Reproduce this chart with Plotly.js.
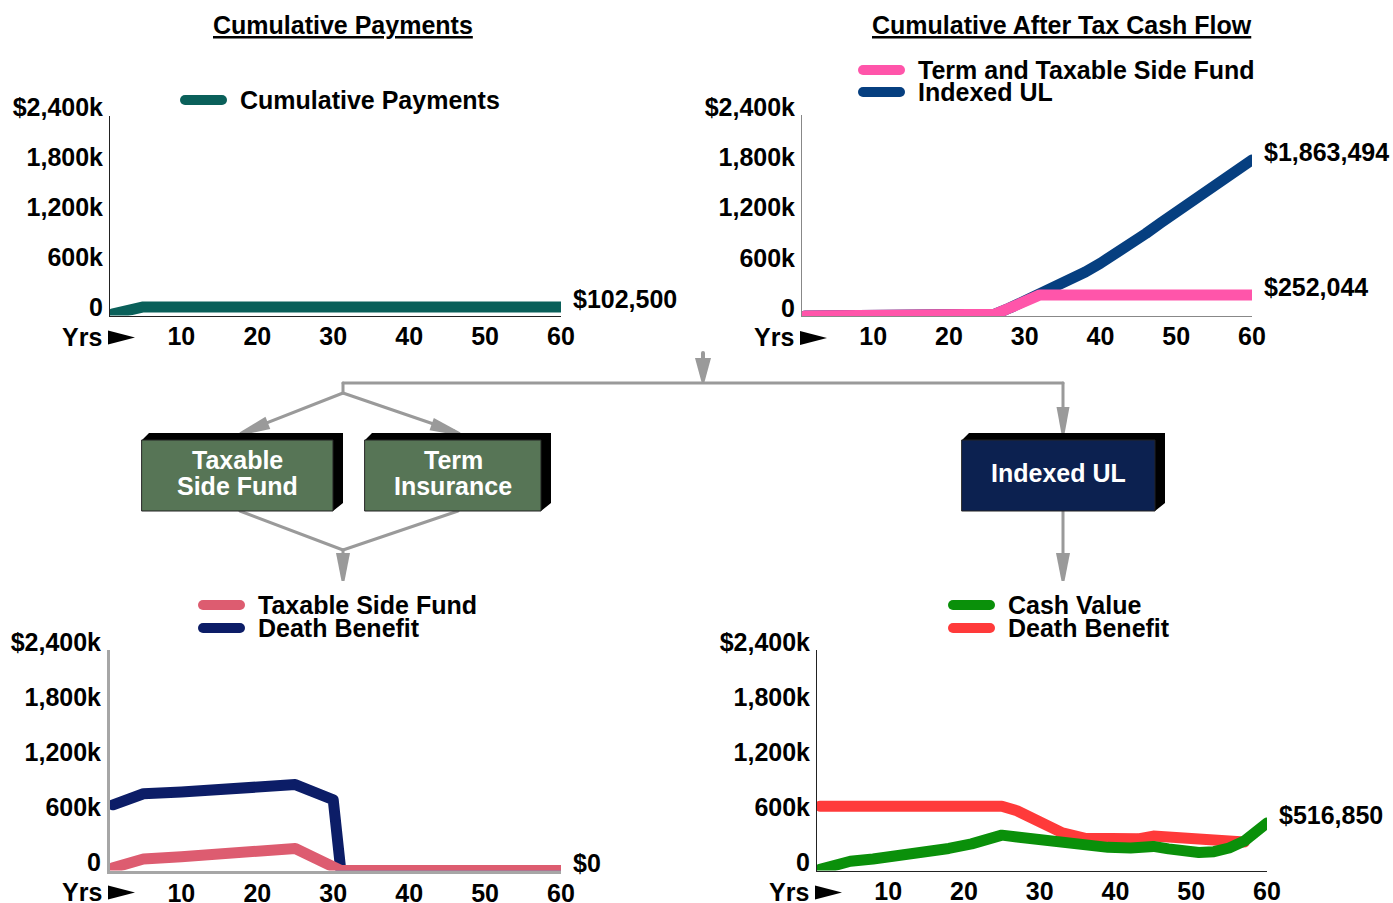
<!DOCTYPE html>
<html><head><meta charset="utf-8">
<script src="https://cdn.plot.ly/plotly-3.0.1.min.js"></script>
<style>
html,body{margin:0;padding:0;background:#fff;}
#chart{width:1393px;height:903px;}
.js-plotly-plot .scatterlayer .js-line{stroke-linecap:round!important;stroke-linejoin:round!important;}
.js-plotly-plot .cartesianlayer .plot,.js-plotly-plot .cartesianlayer .plot *{clip-path:none!important;}
.js-plotly-plot .shapelayer path{stroke-linecap:round!important;}
</style></head><body><div id="chart"></div>
<script>
// ---------------- data ----------------
const payYears = [1, 2, 3, 4, 5, 60];
const payValues = [20500, 41000, 61500, 82000, 102500, 102500];

const termYears = [1, 25, 26, 28, 30, 32, 60];
const termValues = [0, 0, 20000, 95000, 175000, 252044, 252044];

const iulYears = [1, 25, 26, 28, 30, 32, 34, 36, 38, 40, 42, 44, 46, 48, 50, 52, 54, 56, 58, 60];
const iulValues = [0, 0, 20000, 95000, 175000, 255000, 335000, 425000, 525000, 630000, 740000, 860000, 985000, 1115000, 1245000, 1375000, 1500000, 1620000, 1740000, 1863494];

const sideYears = [1, 5, 10, 15, 20, 25, 31, 60];
const sideValues = [30000, 125000, 150000, 175000, 205000, 240000, 0, 0];

const termDbYears = [1, 5, 10, 15, 20, 25, 30, 31, 60];
const termDbValues = [715000, 835000, 855000, 880000, 905000, 935000, 770000, 0, 0];

const cvYears = [1, 5, 8, 12, 15, 18, 21, 23, 25, 27, 30, 33, 36, 39, 42, 44, 45, 47, 49, 51, 53, 55, 57, 59, 60];
const cvValues = [12000, 100000, 125000, 160000, 195000, 240000, 290000, 335000, 385000, 365000, 330000, 300000, 272000, 252000, 245000, 255000, 262000, 235000, 205000, 195000, 205000, 245000, 320000, 430000, 516850];

const iulDbYears = [1, 25, 27, 30, 33, 36, 40, 43, 45, 48, 51, 54, 57];
const iulDbValues = [700000, 700000, 650000, 525000, 410000, 350000, 335000, 345000, 375000, 360000, 360000, 325000, 310000];

const yTickVals = [0, 600000, 1200000, 1800000, 2400000];
const yTickText = ['0', '600k', '1,200k', '1,800k', '$2,400k'];
const xTickVals = [10, 20, 30, 40, 50, 60];
const xTickText = ['10', '20', '30', '40', '50', '60'];
const xLeadLabel = 'Yrs';

const titles = ['Cumulative Payments', 'Cumulative After Tax Cash Flow'];
const boxLabels = [['Taxable', 'Side Fund'], ['Term', 'Insurance'], ['Indexed UL']];

// ---------------- styling ----------------
const W = 1393, H = 903;
const X = p => p / W, Y = p => 1 - p / H;
const F = 'Liberation Sans, Arial, Helvetica, sans-serif';
const GRAY = '#9a9a9a';
const C = {
  teal: '#0a605a', pink: '#ff55aa', blue: '#063f80', side: '#dd5c70',
  navy: '#0c1d67', green: '#0a900a', red: '#ff3a3a'
};
const font = (size, color) => ({family: F, size: size, color: color || '#000', weight: 700});

const panels = [
  {x0: 110, x1: 561, yt: 115.5, yb: 315.5, lc: '#222', lw: 1},
  {x0: 802, x1: 1252, yt: 115, yb: 316, lc: '#888', lw: 1},
  {x0: 110, x1: 561, yt: 650, yb: 870.5, lc: '#a6a6a6', lw: 3},
  {x0: 817, x1: 1267, yt: 650, yb: 870.5, lc: '#222', lw: 1}
];

const layout = {
  width: W, height: H, margin: {l: 0, r: 0, t: 0, b: 0},
  paper_bgcolor: '#fff', plot_bgcolor: 'rgba(0,0,0,0)', showlegend: false,
  annotations: [], shapes: []
};

panels.forEach((p, i) => {
  const n = i + 1, sfx = n === 1 ? '' : String(n);
  layout['xaxis' + sfx] = {
    domain: [X(p.x0), X(p.x1)], range: [0.6, 60], anchor: 'y' + sfx,
    showline: true, linecolor: p.lc, linewidth: p.lw, showgrid: false, zeroline: false,
    ticks: '', tickmode: 'array', tickvals: xTickVals, ticktext: xTickText,
    tickfont: font(25), ticklabelstandoff: -2, fixedrange: true
  };
  layout['yaxis' + sfx] = {
    domain: [Y(p.yb), Y(p.yt)], range: [0, 2400000], anchor: 'x' + sfx,
    showline: true, linecolor: p.lc, linewidth: p.lw, showgrid: false, zeroline: false,
    ticks: '', tickmode: 'array', tickvals: yTickVals, ticktext: yTickText,
    tickfont: font(25), ticklabelshift: -8, ticklabelstandoff: 1, fixedrange: true
  };
  // "Yrs" lead label and pointer
  layout.annotations.push({
    xref: 'paper', yref: 'paper', x: X(p.x0 - 6), y: Y(p.yb + 21), xanchor: 'right', yanchor: 'middle',
    text: xLeadLabel, showarrow: false, font: font(25)
  });
  const ty = p.yb + 22;
  layout.shapes.push({
    type: 'path', xref: 'paper', yref: 'paper', fillcolor: '#000', line: {width: 0},
    path: 'M' + X(p.x0 - 2) + ',' + Y(ty - 7) + 'L' + X(p.x0 + 25) + ',' + Y(ty) + 'L' + X(p.x0 - 2) + ',' + Y(ty + 7) + 'Z'
  });
});

const line = (c) => ({color: c, width: 11});
const data = [
  {x: payYears, y: payValues, xaxis: 'x', yaxis: 'y', mode: 'lines', line: line(C.teal), name: 'Cumulative Payments'},
  {x: iulYears, y: iulValues, xaxis: 'x2', yaxis: 'y2', mode: 'lines', line: line(C.blue), name: 'Indexed UL'},
  {x: termYears, y: termValues, xaxis: 'x2', yaxis: 'y2', mode: 'lines', line: line(C.pink), name: 'Term and Taxable Side Fund'},
  {x: termDbYears, y: termDbValues, xaxis: 'x3', yaxis: 'y3', mode: 'lines', line: line(C.navy), name: 'Death Benefit'},
  {x: sideYears, y: sideValues, xaxis: 'x3', yaxis: 'y3', mode: 'lines', line: line(C.side), name: 'Taxable Side Fund'},
  {x: iulDbYears, y: iulDbValues, xaxis: 'x4', yaxis: 'y4', mode: 'lines', line: line(C.red), name: 'Death Benefit'},
  {x: cvYears, y: cvValues, xaxis: 'x4', yaxis: 'y4', mode: 'lines', line: line(C.green), name: 'Cash Value'}
];
data.forEach(t => { t.hoverinfo = 'skip'; t.showlegend = false; });

// end-value labels
const fmt = v => '$' + v.toLocaleString('en-US');
const endLabel = (xs, ys, ax) => ({
  xref: 'x' + ax, yref: 'y' + ax, x: xs[xs.length - 1], y: ys[ys.length - 1],
  text: fmt(ys[ys.length - 1]), showarrow: false, xanchor: 'left', yanchor: 'middle',
  xshift: 10, yshift: 8, font: font(25)
});
layout.annotations.push(endLabel(payYears, payValues, ''));
layout.annotations.push(endLabel(iulYears, iulValues, '2'));
layout.annotations.push(endLabel(termYears, termValues, '2'));
layout.annotations.push(endLabel(sideYears, sideValues, '3'));
layout.annotations.push(endLabel(cvYears, cvValues, '4'));

// titles
layout.annotations.push({xref: 'paper', yref: 'paper', x: X(343), y: Y(25), xanchor: 'center', yanchor: 'middle', text: '<u>' + titles[0] + '</u>', showarrow: false, font: font(25)});
layout.annotations.push({xref: 'paper', yref: 'paper', x: X(1062), y: Y(25), xanchor: 'center', yanchor: 'middle', text: '<u>' + titles[1] + '</u>', showarrow: false, font: font(25)});

// custom legends
const legendItems = [
  {x: 180, y: 100, c: C.teal, t: 'Cumulative Payments'},
  {x: 858, y: 70, c: C.pink, t: 'Term and Taxable Side Fund'},
  {x: 858, y: 92, c: C.blue, t: 'Indexed UL'},
  {x: 198, y: 605, c: C.side, t: 'Taxable Side Fund'},
  {x: 198, y: 628, c: C.navy, t: 'Death Benefit'},
  {x: 948, y: 605, c: C.green, t: 'Cash Value'},
  {x: 948, y: 628, c: C.red, t: 'Death Benefit'}
];
legendItems.forEach(it => {
  layout.shapes.push({type: 'line', xref: 'paper', yref: 'paper', x0: X(it.x + 5), x1: X(it.x + 42), y0: Y(it.y), y1: Y(it.y), line: {color: it.c, width: 10}});
  layout.annotations.push({xref: 'paper', yref: 'paper', x: X(it.x + 58), y: Y(it.y - 0.5), xanchor: 'left', yanchor: 'middle', text: it.t, showarrow: false, font: font(25)});
});

// flow diagram
const seg = (x0, y0, x1, y1, w) => ({type: 'line', xref: 'paper', yref: 'paper', x0: X(x0), y0: Y(y0), x1: X(x1), y1: Y(y1), line: {color: GRAY, width: w || 3}});
const poly = (pts, fill) => ({type: 'path', xref: 'paper', yref: 'paper', fillcolor: fill, line: {width: 0},
  path: 'M' + pts.map(q => X(q[0]) + ',' + Y(q[1])).join('L') + 'Z'});
const head = (tx, ty, fx, fy, L, w) => {
  const dx = tx - fx, dy = ty - fy, len = Math.hypot(dx, dy), ux = dx / len, uy = dy / len;
  const bx = tx - ux * L, by = ty - uy * L, nx = -uy, ny = ux;
  return poly([[tx + nx * 1.5, ty + ny * 1.5], [bx + nx * w, by + ny * w], [bx - nx * w, by - ny * w], [tx - nx * 1.5, ty - ny * 1.5]], GRAY);
};
layout.shapes.push(
  seg(703, 353, 703, 362, 4), head(703, 382, 703, 353, 24, 8),
  seg(343, 383, 1063, 383), seg(343, 383, 343, 393),
  seg(343, 393, 246, 431), head(240, 434, 343, 393, 30, 6.5),
  seg(343, 393, 454, 431), head(460, 434, 343, 393, 30, 6.5),
  seg(1063, 383, 1063, 415), head(1063, 434, 1063, 383, 27, 6.5),
  seg(240, 511, 343, 550), seg(458, 511, 343, 550), seg(343, 550, 343, 565), head(343, 581, 343, 550, 28, 7),
  seg(1063, 511, 1063, 565), head(1063, 581, 1063, 511, 28, 7)
);
const box = (x0, x1, fill) => {
  layout.shapes.push(poly([[x0, 440], [x0 + 7, 433], [x1 + 10, 433], [x1 + 10, 503], [x1, 511], [x1, 440]], '#000'));
  layout.shapes.push({type: 'rect', xref: 'paper', yref: 'paper', x0: X(x0), x1: X(x1), y0: Y(511), y1: Y(440), fillcolor: fill, line: {color: '#222', width: 1}});
};
box(142, 333, '#577556');
box(365, 541, '#577556');
box(962, 1155, '#0c2150');
const boxText = (t, x, y) => layout.annotations.push({xref: 'paper', yref: 'paper', x: X(x), y: Y(y), xanchor: 'center', yanchor: 'middle', text: t, showarrow: false, font: font(25, '#fff')});
boxText(boxLabels[0][0], 237, 460); boxText(boxLabels[0][1], 237, 486);
boxText(boxLabels[1][0], 453, 460); boxText(boxLabels[1][1], 453, 486);
boxText(boxLabels[2][0], 1058, 473);

Plotly.newPlot('chart', data, layout, {displayModeBar: false, staticPlot: true});
</script></body></html>
